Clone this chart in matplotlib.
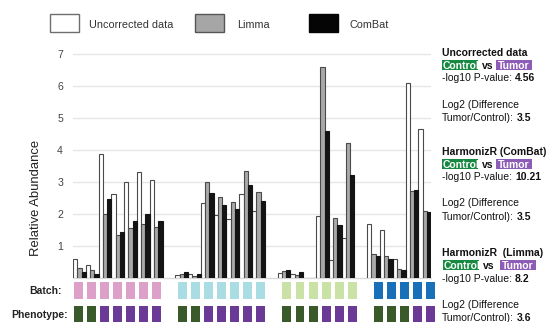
import matplotlib
matplotlib.use('Agg')
import numpy as np
import matplotlib.pyplot as plt
from matplotlib.patches import Rectangle

plt.rcParams['font.family'] = ['Liberation Sans', 'DejaVu Sans']

W, H = 547, 322
fig = plt.figure(figsize=(W / 100, H / 100), dpi=100)


def fx(px):
    return px / W


def fy(py):
    return 1 - py / H


# ---------------- data ----------------
group_sizes = [7, 7, 6, 5]
uncorrected = [0.59, 0.38, 3.87, 2.62, 3.0, 3.3, 3.05,
               0.07, 0.1, 2.32, 1.95, 1.83, 2.62, 2.09,
               0.15, 0.1, 0.0, 1.94, 0.56, 1.24,
               1.66, 1.49, 0.59, 6.1, 4.66]
limma = [0.3, 0.25, 1.98, 1.34, 1.55, 1.69, 1.57,
         0.1, 0.06, 3.0, 2.51, 2.36, 3.35, 2.68,
         0.2, 0.07, 0.0, 6.58, 1.87, 4.2,
         0.74, 0.68, 0.27, 2.7, 2.07]
combat = [0.18, 0.11, 2.47, 1.43, 1.76, 1.99, 1.78,
          0.17, 0.1, 2.64, 2.27, 2.16, 2.9, 2.4,
          0.25, 0.18, 0.0, 4.59, 1.65, 3.2,
          0.66, 0.59, 0.22, 2.75, 2.04]
batch = [1] * 7 + [2] * 7 + [3] * 6 + [4] * 5
phenotype = ['Control', 'Control', 'Tumor', 'Tumor', 'Tumor', 'Tumor', 'Tumor',
             'Control', 'Control', 'Tumor', 'Tumor', 'Tumor', 'Tumor', 'Tumor',
             'Control', 'Control', 'Control', 'Tumor', 'Tumor', 'Tumor',
             'Control', 'Control', 'Control', 'Tumor', 'Tumor']
yticks = [1, 2, 3, 4, 5, 6, 7]
series_names = ['Uncorrected data', 'Limma', 'ComBat']

batch_colors = {1: '#dca0c9', 2: '#aadde3', 3: '#cae2a5', 4: '#1a70b8'}
pheno_colors = {'Control': '#3a5a2b', 'Tumor': '#6b3a96'}

# slot positions (one empty slot between batches)
xpos = []
slot = 0
for g in group_sizes:
    xpos.extend(range(slot, slot + g))
    slot += g + 1
xpos = np.array(xpos, dtype=float)
nslots = slot - 1

# ---------------- bar axes ----------------
y0_px, unit_px = 277.5, 31.93
ytop = 7.1
ax = fig.add_axes([fx(73), fy(y0_px), (431.1 - 73) / W, (ytop * unit_px) / H])
bw = 1 / 3
ax.bar(xpos - bw, uncorrected, width=bw, color='white', edgecolor='#4a4a4a', linewidth=0.8, zorder=3)
ax.bar(xpos, limma, width=bw, color='#a9a9a9', edgecolor='#4a4a4a', linewidth=0.8, zorder=3)
ax.bar(xpos + bw, combat, width=bw, color='#141414', edgecolor='#141414', linewidth=0.8, zorder=3)
ax.set_xlim(-0.5, nslots - 0.5)
ax.set_ylim(0, ytop)
ax.set_yticks(yticks)
ax.set_yticklabels([str(v) for v in yticks], fontsize=7.6, color='#444444')
ax.tick_params(axis='y', length=0, pad=7.2)
ax.set_xticks([])
ax.grid(axis='y', color='#e6e6e6', linewidth=1.0, zorder=0)
for s in ['top', 'right', 'left']:
    ax.spines[s].set_visible(False)
ax.spines['bottom'].set_color('#d9d9d9')
ax.spines['bottom'].set_linewidth(1.0)
ax.set_facecolor('none')

fig.text(fx(36), fy(198), 'Relative Abundance', rotation=90, ha='center', va='center',
         fontsize=9.4, color='#222222')

# ---------------- batch / phenotype axes ----------------
ax2 = fig.add_axes([fx(72), 0, (436.8 - 72) / W, (322 - 281) / H])
ax2.set_xlim(-0.5, nslots - 0.5)
ax2.set_ylim(0, 41)
sq = 0.69
ax2.bar(xpos, [17] * len(xpos), width=sq, bottom=23, color=[batch_colors[b] for b in batch], linewidth=0)
ax2.bar(xpos, [16.5] * len(xpos), width=sq, bottom=0, color=[pheno_colors[p] for p in phenotype], linewidth=0)
ax2.axis('off')

fig.text(fx(62), fy(294.5), 'Batch:', ha='right', va='baseline', fontsize=7.5, fontweight='bold', color='#222222')
fig.text(fx(68), fy(318), 'Phenotype:', ha='right', va='baseline', fontsize=7.5, fontweight='bold', color='#222222')

# ---------------- legend ----------------
leg_boxes = [(50, 'white', '#6e6e6e'), (195, '#a6a6a6', '#555555'), (309, '#050505', '#050505')]
leg_text_x = [89, 237, 350]
for (bx, fc, ec), tx, name in zip(leg_boxes, leg_text_x, series_names):
    fig.patches.append(Rectangle((fx(bx), fy(32)), 29 / W, 18 / H, transform=fig.transFigure,
                                 facecolor=fc, edgecolor=ec, linewidth=1.0))
    fig.text(fx(tx), fy(28), name, ha='left', va='baseline', fontsize=7.8, color='#333333')

# ---------------- annotations ----------------
FS = 7.5
renderer = fig.canvas.get_renderer()
green = '#178a42'
purple = '#8d5cb6'


def rich(x, y, parts):
    for s, bold in parts:
        t = fig.text(fx(x), fy(y), s, ha='left', va='baseline', fontsize=FS,
                     fontweight='bold' if bold else 'normal', color='#111111')
        x += t.get_window_extent(renderer).width
        x += 2.9 if not bold else 0


def ctrl_vs_tumor(yc, dx_c=0, dx_t=0):
    fig.patches.append(Rectangle((fx(441.7 + dx_c), fy(yc + 5)), 36.5 / W, 10 / H,
                                 transform=fig.transFigure, facecolor=green, edgecolor='none'))
    fig.text(fx(442.2 + dx_c), fy(yc + 3.8), 'Control', ha='left', va='baseline', fontsize=FS,
             fontweight='bold', color='white')
    fig.text(fx(482 + dx_c), fy(yc + 3.8), 'vs', ha='left', va='baseline', fontsize=FS,
             fontweight='bold', color='#111111')
    fig.patches.append(Rectangle((fx(496 + dx_t), fy(yc + 5)), 36 / W, 10 / H,
                                 transform=fig.transFigure, facecolor=purple, edgecolor='none'))
    fig.text(fx(498 + dx_t), fy(yc + 3.8), 'Tumor', ha='left', va='baseline', fontsize=FS,
             fontweight='bold', color='white')


blocks = [
    ('Uncorrected data', '4.56', '3.5', 56, 0, 0),
    ('HarmonizR (ComBat)', '10.21', '3.5', 155, 0, 0),
    ('HarmonizR  (Limma)', '8.2', '3.6', 256, 1, 4),
]
for title, pval, l2, yb, dxc, dxt in blocks:
    fig.text(fx(442), fy(yb), title, ha='left', va='baseline', fontsize=FS,
             fontweight='bold', color='#111111')
    ctrl_vs_tumor(yb + 9.3, dxc, dxt)
    rich(442, yb + 25.5, [('-log10 P-value:', False), (pval, True)])
    fig.text(fx(442), fy(yb + 51.5), 'Log2 (Difference', ha='left', va='baseline',
             fontsize=FS, color='#111111')
    rich(442, yb + 65, [('Tumor/Control):', False), (l2, True)])

fig.savefig('out.png', dpi=100)
